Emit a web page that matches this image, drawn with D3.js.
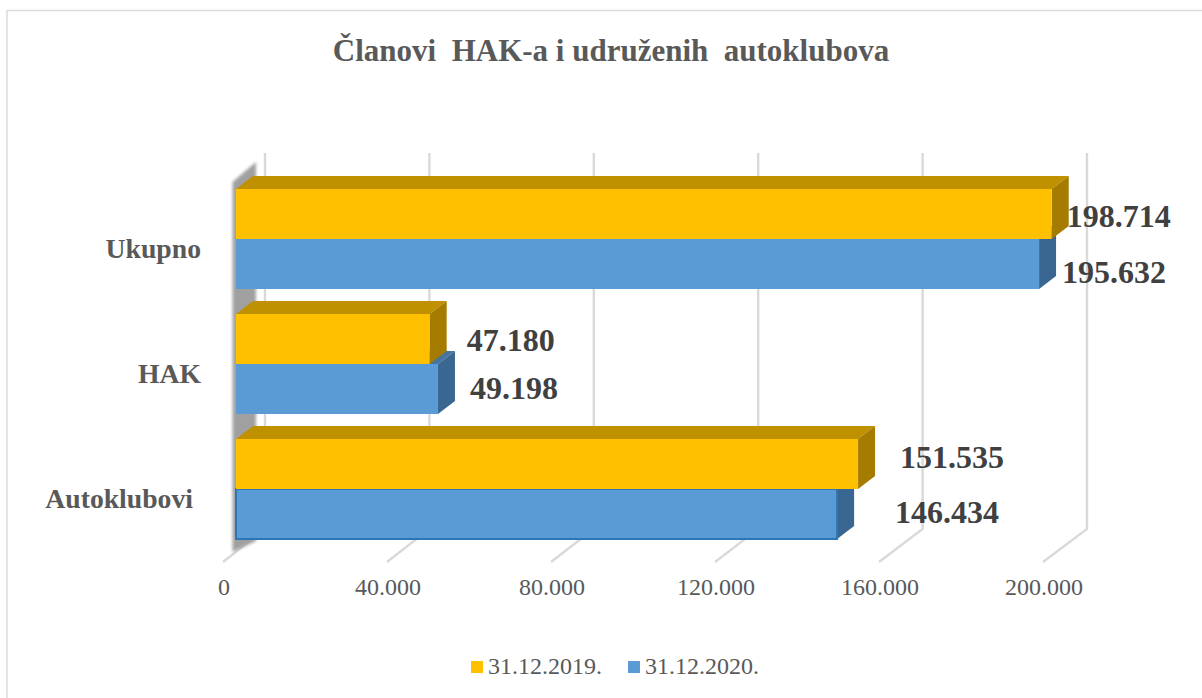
<!DOCTYPE html>
<html>
<head>
<meta charset="utf-8">
<script src="https://cdn.jsdelivr.net/npm/d3@7"></script>
<style>
  html, body { margin: 0; padding: 0; background: #fff; overflow: hidden; }
  text { font-family: 'Liberation Serif', serif; white-space: pre; }
</style>
</head>
<body>
<div id="chart"></div>
<script>
const categories = ['Ukupno', 'HAK', 'Autoklubovi']
const seriesNames = ['31.12.2019.', '31.12.2020.']
const values2019 = [198714, 47180, 151535]
const values2020 = [195632, 49198, 146434]
const ticks = [0, 40000, 80000, 120000, 160000, 200000]

// data labels were dragged by hand in the original, so they sit off the bar ends
const labelShift2019 = [{ dx: 15, dy: 13 }, { dx: 37, dy: 12 }, { dx: 42, dy: 4 }]
const labelShift2020 = [{ dx: 23, dy: 19 }, { dx: 32, dy: 10 }, { dx: 58, dy: 9 }]
const catLabelEnd = [201, 201, 193]

const width = 1202
const height = 698
const barDepth = { x: 17, y: -13 }

const svg = d3
  .select('#chart')
  .append('svg')
  .attr('width', width)
  .attr('height', height)
  .style('display', 'block')

const de = d3.formatLocale({ decimal: ',', thousands: '.', grouping: [3], currency: ['', ''] })
const fmt = de.format(',')

const defs = svg.append('defs')
defs.append('filter').attr('id', 'soft').append('feGaussianBlur').attr('stdDeviation', 0.6)
defs.append('filter').attr('id', 'softer').append('feGaussianBlur').attr('stdDeviation', 1.4)

// three x scales because of the 3d look: floor front edge, back wall, bar faces
const xAxisScale = d3.scaleLinear().domain([0, 200000]).range([223, 1043])
const xBack = d3.scaleLinear().domain([0, 200000]).range([265, 1087])
const x = d3.scaleLinear().domain([0, 200000]).range([236, 1057])
const y = d3
  .scaleBand()
  .domain(categories)
  .range([176.5, 551.5])
  .paddingInner(0.2)
  .paddingOuter(0.1)
const ySeries = d3.scaleBand().domain(seriesNames).range([0, y.bandwidth()])

const colors = d3.scaleOrdinal().domain(seriesNames).range(['#ffc000', '#5b9bd5'])
const topColors = d3.scaleOrdinal().domain(seriesNames).range(['#bf9000', '#44749f'])
const sideColors = d3.scaleOrdinal().domain(seriesNames).range(['#a67c00', '#3a6791'])

// Chart frame
svg
  .append('path')
  .attr('d', `M7,${height} V10.5 H${width}`)
  .attr('fill', 'none')
  .attr('stroke', '#dcdcdc')
  .attr('stroke-width', 1.5)

// Title
svg
  .append('text')
  .attr('x', 611)
  .attr('y', 61)
  .attr('text-anchor', 'middle')
  .attr('font-size', 31)
  .attr('font-weight', 'bold')
  .attr('fill', '#595959')
  .text('Članovi  HAK-a i udruženih  autoklubova')

// Gridlines: floor part and back wall part
const grid = svg.append('g').attr('filter', 'url(#soft)')
grid
  .selectAll('path')
  .data(ticks)
  .enter()
  .append('path')
  .attr('fill', 'none')
  .attr('stroke', '#d9d9d9')
  .attr('stroke-width', 2.4)
  .attr('d', d => `M${xAxisScale(d)},562 L${xBack(d)},529 V153`)

// Side wall
svg
  .append('path')
  .attr('d', 'M232.5,182 L256,162 V541 L232.5,552 Z')
  .attr('fill', '#a0a0a0')
  .attr('filter', 'url(#softer)')

// Bars, blue first so the yellow front face covers its top
const groups = svg
  .selectAll('.group')
  .data(categories)
  .enter()
  .append('g')
  .attr('class', 'group')

const rows = (d, i) => [
  { cat: d, i, name: seriesNames[1], value: values2020[i] },
  { cat: d, i, name: seriesNames[0], value: values2019[i] }
]

groups.each(function(d, i) {
  const g = d3.select(this)
  rows(d, i).forEach(b => {
    const x0 = x(0)
    const x1 = x(b.value)
    const y0 = y(b.cat) + ySeries(b.name)
    const y1 = y0 + ySeries.bandwidth()

    g.append('path')
      .attr('d', `M${x0},${y0} L${x0 + barDepth.x},${y0 + barDepth.y} H${x1 + barDepth.x} L${x1},${y0} Z`)
      .attr('fill', topColors(b.name))
    g.append('path')
      .attr('d', `M${x1},${y0} L${x1 + barDepth.x},${y0 + barDepth.y} V${y1 + barDepth.y} L${x1},${y1} Z`)
      .attr('fill', sideColors(b.name))
    g.append('rect')
      .attr('x', x0)
      .attr('y', y0)
      .attr('width', x1 - x0)
      .attr('height', y1 - y0)
      .attr('fill', colors(b.name))
      // Autoklubovi 2020 is the one selected bar with a darker outline
      .attr('stroke', b.cat === 'Autoklubovi' && b.name === seriesNames[1] ? '#2e75b6' : 'none')
      .attr('stroke-width', 2)
  })
})

// Data labels
const labelData = categories.flatMap((c, i) => [
  { cat: c, name: seriesNames[0], value: values2019[i], shift: labelShift2019[i] },
  { cat: c, name: seriesNames[1], value: values2020[i], shift: labelShift2020[i] }
])

svg
  .selectAll('.value')
  .data(labelData)
  .enter()
  .append('text')
  .attr('class', 'value')
  .attr('x', d => x(d.value) + d.shift.dx)
  .attr('y', d => y(d.cat) + ySeries(d.name) + ySeries.bandwidth() / 2 + d.shift.dy)
  .attr('font-size', 32)
  .attr('font-weight', 'bold')
  .attr('fill', '#404040')
  .text(d => fmt(d.value))

// Category labels
svg
  .selectAll('.cat')
  .data(categories)
  .enter()
  .append('text')
  .attr('class', 'cat')
  .attr('x', (d, i) => catLabelEnd[i])
  .attr('y', d => y(d) + y.bandwidth() / 2 + 19)
  .attr('text-anchor', 'end')
  .attr('font-size', 27.7)
  .attr('font-weight', 'bold')
  .attr('fill', '#595959')
  .text(d => d)

// Value axis labels
const axis = d3.axisBottom(xAxisScale).tickValues(ticks).tickSize(0).tickFormat(fmt)
const axisG = svg.append('g').attr('transform', 'translate(0.5,575)').call(axis)
axisG.select('.domain').remove()
axisG
  .selectAll('text')
  .attr('font-family', "'Liberation Serif', serif")
  .attr('font-size', 24)
  .attr('fill', '#595959')

// Legend
const legend = svg.append('g').attr('transform', 'translate(471,661)')
legend
  .selectAll('.legend')
  .data(seriesNames)
  .enter()
  .append('g')
  .attr('class', 'legend')
  .attr('transform', (d, i) => `translate(${i * 157},0)`)
  .each(function(d) {
    const g = d3.select(this)
    g.append('rect')
      .attr('width', 12)
      .attr('height', 12)
      .attr('fill', colors(d))
    g.append('text')
      .text(d)
      .attr('x', 17)
      .attr('y', 13)
      .attr('font-size', 24)
      .attr('fill', '#595959')
  })
</script>
</body>
</html>
